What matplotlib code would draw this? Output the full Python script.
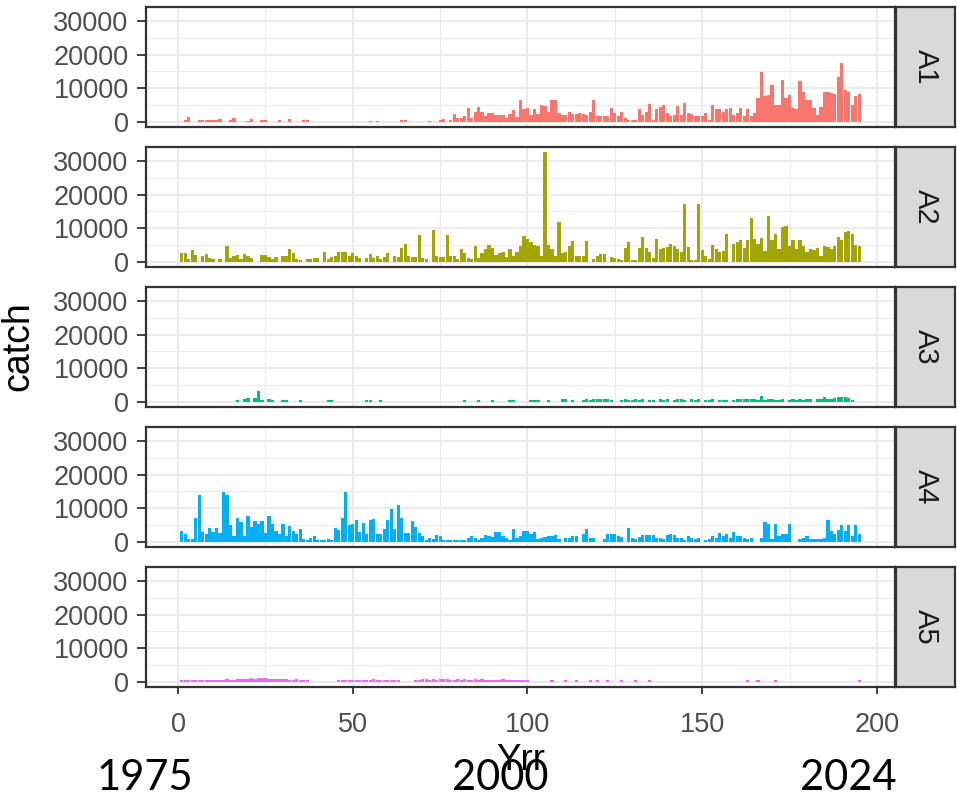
import matplotlib
matplotlib.use("Agg")
import matplotlib.pyplot as plt
from matplotlib.ticker import FixedLocator
import numpy as np

plt.rcParams["font.family"] = ["Liberation Sans", "DejaVu Sans"]

# ---- data ---------------------------------------------------------------
yrr = np.arange(1, 196)
areas = ["A1", "A2", "A3", "A4", "A5"]
area_colors = ["#F8766D", "#A3A500", "#00BF7D", "#00B0F6", "#E76BF3"]

catch_A1 = [
    0, 400, 1400, 0, 0, 600, 600, 500, 500, 600,
    500, 900, 0, 0, 400, 1100, 0, 0, 0, 300,
    800, 0, 0, 400, 400, 0, 0, 0, 400, 0,
    0, 800, 0, 0, 0, 400, 400, 0, 0, 0,
    0, 0, 0, 0, 0, 0, 0, 0, 0, 0,
    0, 0, 0, 0, 300, 0, 300, 0, 0, 0,
    0, 0, 0, 400, 400, 0, 0, 0, 0, 0,
    0, 300, 0, 0, 600, 800, 0, 500, 2300, 1000,
    1000, 1600, 3900, 1000, 3000, 4400, 3000, 1600, 2600, 2600,
    2100, 2000, 2000, 1000, 2200, 3400, 1400, 6300, 3600, 3900,
    2000, 3600, 2200, 5000, 4500, 3000, 6300, 6300, 2600, 2100,
    2100, 3000, 2300, 2300, 2500, 2300, 2000, 3000, 6300, 1800,
    1600, 1700, 1600, 3900, 2600, 1600, 2900, 1100, 600, 600,
    600, 3600, 2100, 3000, 5300, 600, 3600, 4400, 5000, 2600,
    1600, 2000, 4500, 2100, 5500, 2600, 2300, 1800, 1800, 1800,
    2600, 600, 5000, 3600, 3800, 3000, 3600, 3900, 2100, 2600,
    3900, 1600, 3600, 1600, 2600, 7100, 14800, 7500, 8000, 10800,
    5000, 4800, 12400, 7000, 8000, 4100, 3600, 12000, 8700, 6500,
    6500, 4100, 1900, 4400, 8700, 8900, 8500, 8300, 13200, 17600,
    9500, 8700, 4800, 7500, 8200,
]

catch_A2 = [
    2600, 2600, 800, 3400, 2100, 0, 1600, 2400, 1100, 800,
    0, 800, 0, 4500, 1100, 1600, 2100, 800, 2400, 1800,
    1100, 0, 0, 2000, 2000, 1400, 800, 1400, 0, 1800,
    1800, 3800, 2600, 800, 400, 0, 800, 800, 1100, 1100,
    0, 3000, 800, 1400, 1800, 2800, 2800, 2800, 1600, 2600,
    1600, 1100, 0, 1100, 2400, 1100, 1600, 800, 1400, 2600,
    0, 1800, 1400, 4100, 5300, 1600, 1400, 1400, 7800, 1100,
    800, 0, 9500, 1600, 1300, 1400, 7800, 1800, 1600, 800,
    3800, 2600, 1100, 800, 4500, 1100, 2600, 3600, 5000, 4000,
    2100, 2600, 3000, 1400, 3600, 1600, 3000, 4500, 7500, 6700,
    5800, 4900, 4500, 1600, 32600, 5000, 3800, 1600, 11900, 2600,
    3000, 4500, 6200, 1600, 1600, 1600, 6200, 0, 800, 1600,
    2400, 2400, 0, 1300, 1100, 800, 400, 3900, 5700, 600,
    600, 4000, 7300, 3900, 3000, 1100, 6700, 3600, 4100, 4400,
    5200, 4500, 3600, 3000, 17200, 4300, 600, 600, 17200, 3400,
    1800, 800, 5000, 3600, 3000, 3300, 8200, 0, 5300, 5900,
    6300, 3900, 6500, 13000, 6800, 5300, 7000, 3300, 13500, 6500,
    8200, 3600, 10300, 10700, 4500, 6300, 3600, 6500, 4500, 3000,
    3600, 3400, 4000, 1800, 4500, 4200, 3600, 4500, 7300, 6500,
    8900, 9100, 8200, 4800, 4500,
]

catch_A3 = [
    0, 0, 0, 0, 0, 0, 0, 0, 0, 0,
    0, 0, 0, 0, 0, 0, 500, 0, 700, 1100,
    0, 1000, 3100, 600, 0, 900, 500, 0, 0, 500,
    500, 0, 0, 0, 500, 0, 0, 0, 0, 0,
    0, 0, 500, 500, 0, 0, 0, 0, 0, 0,
    0, 0, 0, 500, 500, 0, 0, 500, 0, 0,
    0, 0, 0, 0, 0, 0, 0, 0, 0, 0,
    0, 0, 0, 0, 0, 0, 0, 0, 0, 0,
    0, 500, 0, 0, 0, 500, 0, 0, 0, 500,
    0, 0, 0, 0, 500, 500, 0, 0, 0, 0,
    500, 400, 500, 0, 0, 500, 0, 0, 0, 700,
    700, 0, 600, 0, 0, 600, 800, 600, 800, 800,
    800, 700, 800, 600, 0, 0, 600, 700, 600, 600,
    800, 600, 700, 0, 500, 600, 0, 800, 600, 800,
    0, 600, 800, 700, 600, 0, 700, 600, 800, 0,
    600, 600, 700, 0, 600, 600, 500, 0, 500, 700,
    700, 700, 700, 700, 800, 600, 1600, 600, 700, 700,
    600, 600, 900, 0, 500, 900, 600, 900, 500, 800,
    900, 0, 700, 900, 1400, 800, 900, 1100, 1400, 1400,
    1400, 1200, 600, 0, 0,
]

catch_A4 = [
    3200, 2200, 700, 700, 7100, 14000, 3000, 2200, 4000, 2900,
    4000, 2700, 14900, 14000, 4900, 1700, 7100, 5900, 1700, 7600,
    4400, 6100, 5100, 6100, 2700, 7500, 5100, 3200, 2200, 5100,
    1600, 4600, 3200, 2200, 3600, 700, 400, 1000, 1600, 400,
    400, 400, 800, 400, 4000, 3400, 6900, 14900, 4800, 5100,
    6300, 2900, 5600, 2400, 6300, 6800, 2400, 2200, 3700, 6300,
    9600, 3700, 10900, 7100, 2700, 2700, 6100, 4400, 2700, 1600,
    600, 1000, 700, 1900, 1600, 600, 400, 400, 400, 400,
    400, 400, 1200, 1600, 1000, 600, 1000, 1900, 1700, 1500,
    2800, 2800, 1600, 1000, 400, 3700, 1000, 1700, 3200, 3200,
    2400, 2800, 700, 1000, 1400, 1600, 1600, 2000, 700, 0,
    1000, 1000, 1600, 1600, 0, 2200, 3600, 1200, 1000, 0,
    0, 700, 2400, 2400, 2400, 1700, 1400, 0, 4000, 1200,
    700, 1400, 1900, 1900, 1900, 1900, 1200, 1000, 700, 1900,
    2200, 1900, 1000, 1200, 600, 1800, 1200, 700, 1200, 0,
    400, 700, 1600, 1200, 2700, 1700, 2200, 1200, 3000, 1600,
    1700, 1200, 700, 1200, 0, 0, 1000, 5900, 5300, 700,
    5300, 1700, 2200, 2200, 5100, 0, 0, 700, 1200, 1600,
    700, 700, 700, 700, 1000, 6300, 3200, 2200, 3400, 4900,
    3200, 4900, 1700, 4900, 2200,
]

catch_A5 = [
    600, 600, 500, 600, 600, 500, 600, 600, 600, 500,
    600, 600, 600, 700, 600, 600, 700, 800, 700, 900,
    1000, 900, 1100, 1200, 1000, 900, 800, 800, 700, 800,
    700, 600, 600, 700, 500, 600, 600, 0, 0, 0,
    0, 0, 0, 0, 0, 600, 500, 600, 600, 500,
    600, 600, 600, 500, 600, 700, 600, 600, 600, 500,
    600, 600, 500, 0, 0, 0, 0, 600, 600, 700,
    700, 600, 700, 600, 700, 800, 700, 600, 600, 700,
    600, 700, 600, 600, 700, 600, 700, 600, 600, 500,
    600, 600, 700, 600, 600, 600, 600, 500, 600, 500,
    0, 0, 0, 0, 0, 0, 500, 0, 0, 0,
    500, 0, 0, 500, 0, 0, 0, 500, 0, 500,
    0, 0, 500, 0, 0, 0, 500, 0, 0, 0,
    500, 0, 0, 0, 500, 0, 0, 0, 0, 0,
    0, 0, 0, 0, 0, 0, 0, 0, 0, 0,
    0, 0, 0, 0, 0, 0, 0, 0, 0, 0,
    0, 0, 500, 0, 0, 400, 0, 0, 0, 0,
    500, 0, 0, 0, 0, 0, 0, 0, 0, 0,
    0, 0, 0, 0, 0, 0, 0, 0, 0, 0,
    0, 0, 0, 0, 500,
]

catch_series = [catch_A1, catch_A2, catch_A3, catch_A4, catch_A5]

y_breaks = [0, 10000, 20000, 30000]
y_minor = [5000, 15000, 25000]
x_breaks = [0, 50, 100, 150, 200]
x_minor = [25, 75, 125, 175]
year_marks = [("1975", 97), ("2000", 452), ("2024", 800)]

# ---- layout (pixel geometry of a 957 x 800 canvas) ------------------------
W, H = 957, 800
fig = plt.figure(figsize=(W / 100, H / 100), dpi=100)
fig.patch.set_facecolor("white")


def box(left, top, width, height):
    return [left / W, 1 - (top + height) / H, width / W, height / H]


bar_w = 0.9
ymax = max(max(s) for s in catch_series)
ylim = (-0.05 * ymax, 1.05 * ymax)
x_lo, x_hi = yrr.min() - bar_w / 2, yrr.max() + bar_w / 2
pad = 0.05 * (x_hi - x_lo)
xlim = (x_lo - pad, x_hi + pad)

panel_left, panel_w, panel_h = 146, 749, 120
panel_tops = [7, 147, 287, 427, 567]
border = "#333333"
grid_col = "#EBEBEB"

for k, (area, col, vals, top) in enumerate(zip(areas, area_colors, catch_series, panel_tops)):
    ax = fig.add_axes(box(panel_left, top, panel_w, panel_h))
    ax.set_facecolor("white")
    ax.bar(yrr, vals, width=bar_w, color=col, linewidth=0, zorder=2)
    ax.set_xlim(xlim)
    ax.set_ylim(ylim)

    ax.yaxis.set_major_locator(FixedLocator(y_breaks))
    ax.yaxis.set_minor_locator(FixedLocator(y_minor))
    ax.xaxis.set_major_locator(FixedLocator(x_breaks))
    ax.xaxis.set_minor_locator(FixedLocator(x_minor))
    ax.grid(which="major", color=grid_col, linewidth=1.5, zorder=0)
    ax.grid(which="minor", color=grid_col, linewidth=0.8, zorder=0)
    ax.set_axisbelow(True)

    for sp in ax.spines.values():
        sp.set_color(border)
        sp.set_linewidth(1.6)
        sp.set_zorder(5)

    ax.tick_params(which="major", length=6.5, width=1.3, color=border,
                   labelsize=19.5, labelcolor="#4D4D4D", pad=6)
    ax.tick_params(which="minor", length=0)
    ax.set_yticklabels([str(v) for v in y_breaks])
    if k < len(areas) - 1:
        ax.tick_params(axis="x", which="major", length=0, labelbottom=False)
    else:
        ax.set_xticklabels([str(v) for v in x_breaks])
        ax.tick_params(axis="x", length=5, pad=13)

    strip = fig.add_axes(box(896, top, 59, panel_h))
    strip.set_facecolor("#D9D9D9")
    strip.set_xticks([])
    strip.set_yticks([])
    for sp in strip.spines.values():
        sp.set_color(border)
        sp.set_linewidth(1.6)
    strip.text(0.5, 0.5, area, rotation=-90, ha="center", va="center",
               fontsize=21, color="#1A1A1A", transform=strip.transAxes)

# axis titles
fig.text(18 / W, 1 - 346 / H, "catch", rotation=90, ha="center", va="center",
         fontsize=27, color="black")
fig.text(521 / W, 1 - 770 / H, "Yrr", ha="center", va="baseline",
         fontsize=26.5, color="black")

# calendar-year annotations along the bottom
for label, left in year_marks:
    fig.text(left / W, 1 - 790 / H, label, ha="left", va="baseline",
             fontsize=30, color="black", family=["Lato", "DejaVu Sans"], zorder=10)

fig.savefig("out.png", dpi=100, facecolor="white")
